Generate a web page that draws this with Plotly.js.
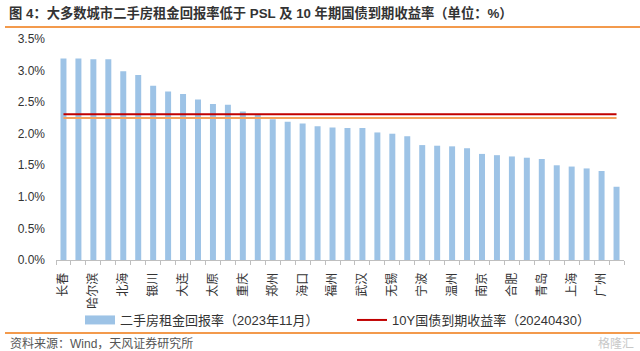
<!DOCTYPE html>
<html><head><meta charset="utf-8">
<script src="https://cdn.plot.ly/plotly-3.0.1.min.js"></script>
<style>html,body{margin:0;padding:0;background:#fff}#chart{width:640px;height:351px}</style>
</head><body><div id="chart"></div>
<script>
// Tick labels (shown on every other bar, as in the source chart)
const cityLabels = ['长春','哈尔滨','北海','银川','大连','太原','重庆','郑州','海口','福州','武汉','无锡','宁波','温州','南京','合肥','青岛','上海','广州'];
// Second-hand housing rental yield, Nov 2023 (%), 38 cities in ranked order
const rentYield = [3.19,3.19,3.18,3.18,2.99,2.93,2.76,2.67,2.63,2.54,2.47,2.46,2.35,2.30,2.23,2.19,2.16,2.12,
                   2.10,2.09,2.09,2.02,2.00,1.96,1.82,1.81,1.80,1.77,1.68,1.66,1.64,1.62,1.60,1.50,1.48,1.45,1.41,1.16];
const bond10Y = 2.31;   // 10Y government bond yield, 20240430 (%)
const pslRate = 2.25;   // PSL rate (%)
const yTicks = [0,0.5,1.0,1.5,2.0,2.5,3.0,3.5];
const barName = '二手房租金回报率（2023年11月）';
const bondName = '10Y国债到期收益率（20240430）';

const idx = rentYield.map((_, i) => i + 1);
const labelPos = cityLabels.map((_, i) => 2 * i + 1);
const lineX = idx.slice();
const bondY = idx.map(() => bond10Y);
const pslY = idx.map(() => pslRate);

const barColor = '#9DC3E6';
const orange = '#F39A4C';
const textColor = '#333333';
const fontFam = '"Liberation Sans", Arial, "Noto Sans CJK SC", sans-serif';

const traces = [
  {type:'bar', x: idx, y: rentYield, marker:{color: barColor}, showlegend:false, hoverinfo:'skip'},
  {type:'scatter', mode:'lines', x:[null], y:[null], name: barName, line:{color: barColor, width: 9}, showlegend:true, legend:'legend'},
  {type:'scatter', mode:'lines', x: lineX, y: bondY, name: bondName, line:{color:'#C00000', width:2}, showlegend:true, legend:'legend2'},
  {type:'scatter', mode:'lines', x: lineX, y: pslY, name:'PSL', line:{color:'#F4A15C', width:2}, showlegend:false}
];

const L = 56, R = 16, T = 39, B = 91, W = 640, H = 351;
const pw = W - L - R, ph = H - T - B;
const px2x = p => (p - L) / pw;
const py2y = p => (H - B - p) / ph;

const legendCommon = {orientation: 'h', xanchor: 'left', yanchor: 'middle',
  font: {size: 13, color: textColor}, bgcolor: 'rgba(0,0,0,0)', borderwidth: 0};

const layout = {
  width: W, height: H,
  margin: {l: L, r: R, t: T, b: B, pad: 0},
  paper_bgcolor: '#fff', plot_bgcolor: '#fff',
  font: {family: fontFam, size: 12, color: textColor},
  title: {text: '<b>图 4：大多数城市二手房租金回报率低于 PSL 及 10 年期国债到期收益率（单位：%）</b>',
          font: {family: fontFam, size: 13.3, color: '#333333'},
          x: 9 / W, xanchor: 'left', xref: 'container',
          y: 1 - 13 / H, yanchor: 'middle', yref: 'container'},
  bargap: 0.6,
  xaxis: {
    type: 'linear', range: [0.5, rentYield.length + 0.5],
    tickmode: 'array', tickvals: labelPos, ticktext: cityLabels,
    tickangle: -90, ticks: '', showgrid: false, zeroline: false,
    showline: true, linecolor: '#BFBFBF', linewidth: 1,
    tickfont: {size: 12, color: textColor}, ticklabelstandoff: 7,
    minor: {ticks: 'outside', tick0: 0.5, dtick: 1, ticklen: 4, tickcolor: '#BFBFBF', showgrid: false},
    fixedrange: true
  },
  yaxis: {
    range: [0, 3.5], tickmode: 'array', tickvals: yTicks,
    ticktext: yTicks.map(v => v.toFixed(1) + '%'),
    showgrid: false, zeroline: false, showline: false, ticks: '',
    tickfont: {size: 12, color: textColor}, ticklabelstandoff: 10,
    fixedrange: true
  },
  showlegend: true,
  legend: Object.assign({}, legendCommon, {x: px2x(80), y: py2y(320)}),
  legend2: Object.assign({}, legendCommon, {x: px2x(352), y: py2y(320)}),
  shapes: [
    {type:'line', xref:'paper', yref:'paper', x0: px2x(5), x1: px2x(640), y0: py2y(27), y1: py2y(27), line:{color: orange, width: 2}},
    {type:'line', xref:'paper', yref:'paper', x0: px2x(5), x1: px2x(640), y0: py2y(333), y1: py2y(333), line:{color: orange, width: 2}}
  ],
  annotations: [
    {text: '资料来源：Wind，天风证券研究所', xref:'paper', yref:'paper', x: px2x(8), y: py2y(343),
     xanchor:'left', yanchor:'middle', showarrow:false, font:{size: 12, color:'#555555'}},
    {text: '格隆汇', xref:'paper', yref:'paper', x: px2x(636), y: py2y(343),
     xanchor:'right', yanchor:'middle', showarrow:false, font:{size: 12, color:'#C8C8C8'}}
  ]
};

Plotly.newPlot('chart', traces, layout, {staticPlot: true, displayModeBar: false});
</script>
</body></html>
